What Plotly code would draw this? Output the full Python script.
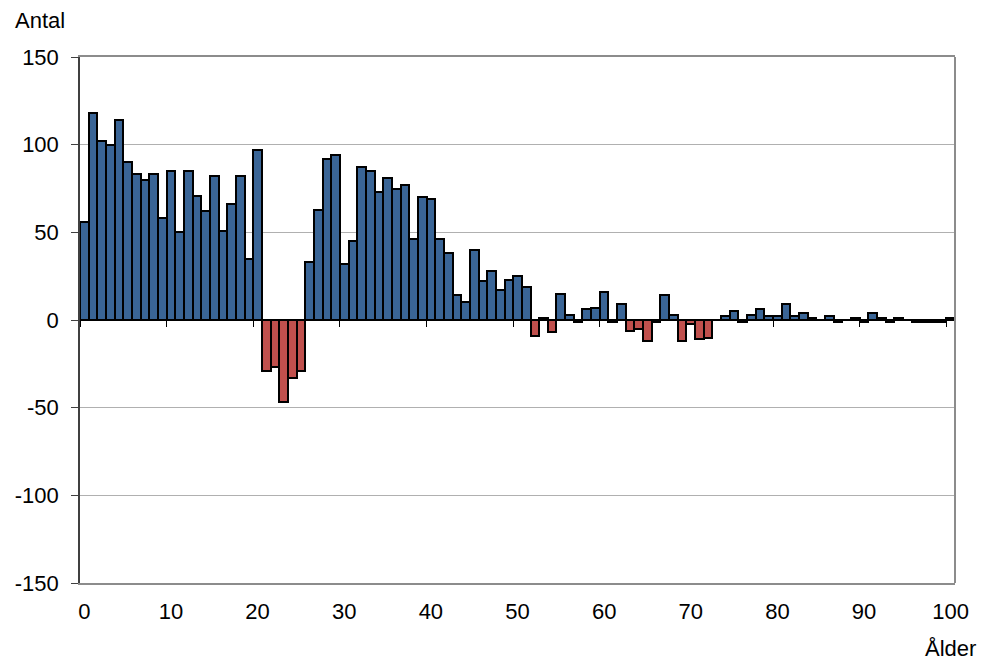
import plotly.graph_objects as go

ages = list(range(0, 101))
values = [
    56, 118, 102, 100, 114, 90, 83, 80, 83, 58,
    85, 50, 85, 71, 62, 82, 51, 66, 82, 35,
    97, -29, -27, -47, -33, -29, 33, 63, 92, 94,
    32, 45, 87, 85, 73, 81, 75, 77, 46, 70,
    69, 46, 38, 14, 10, 40, 22, 28, 17, 23,
    25, 19, -9, 1, -7, 15, 3, -1, 6, 7,
    16, -1, 9, -6, -5, -12, -1, 14, 3, -12,
    -2, -11, -10, 0, 2, 5, -1, 3, 6, 2,
    2, 9, 2, 4, 1, 0, 2, -1, 0, 1,
    -1, 4, 1, -1, 1, 0, -1, -1, -1, -1,
    1,
]
x_tick_vals = list(range(0, 101, 10))
x_tick_text = [str(v) for v in x_tick_vals]
y_tick_vals = [-150, -100, -50, 0, 50, 100, 150]
y_tick_text = ["-150", "-100", "-50", "0", "50", "100", "150"]

BLUE = "#3A6596"
RED = "#C0504D"
colors = [BLUE if v >= 0 else RED for v in values]
FONT = "Liberation Sans, Arial, sans-serif"
FS = 22

fig = go.Figure()
fig.add_trace(go.Bar(
    x=ages, y=values,
    marker=dict(color=colors, line=dict(color="black", width=2)),
    width=1.0, showlegend=False, hoverinfo="x+y",
))
fig.add_trace(go.Scatter(x=[0], y=[0], xaxis="x2", mode="markers",
                         marker=dict(opacity=0), showlegend=False, hoverinfo="skip"))

fig.update_layout(
    width=982, height=661,
    margin=dict(l=80, r=27, t=57, b=78),
    paper_bgcolor="white", plot_bgcolor="white",
    bargap=0,
    font=dict(family=FONT, size=FS, color="black"),
    xaxis=dict(
        range=[-0.5, 100.5], automargin=False,
        tickmode="array", tickvals=x_tick_vals, ticktext=x_tick_text,
        ticks="", showgrid=False, zeroline=False,
        showline=True, linecolor="#8c8c8c", linewidth=2, mirror=True,
        ticklabelstandoff=8,
        tickfont=dict(size=FS, family=FONT),
    ),
    xaxis2=dict(
        range=[-0.5, 100.5], overlaying="x", anchor="free", position=0.5,
        automargin=False,
        tickmode="linear", tick0=-0.5, dtick=10,
        ticks="outside", ticklen=6, tickcolor="black", tickwidth=1,
        showticklabels=False, showgrid=False, zeroline=False,
        showline=True, linecolor="black", linewidth=2,
    ),
    yaxis=dict(
        range=[-150, 150], automargin=False,
        tickmode="array", tickvals=y_tick_vals, ticktext=y_tick_text,
        ticks="outside", ticklen=7, tickcolor="#404040", tickwidth=1,
        showgrid=True, gridcolor="#b0b0b0", gridwidth=1,
        zeroline=False,
        showline=True, linecolor="#404040", linewidth=1.5,
        ticklabelstandoff=8,
        tickfont=dict(size=FS, family=FONT),
    ),
    shapes=[dict(type="line", xref="paper", yref="paper", x0=1, x1=1, y0=0, y1=1,
                 line=dict(color="#8c8c8c", width=2))],
    annotations=[
        dict(text="Antal", xref="paper", yref="paper",
             x=(40 - 80) / 875, y=1 + (57 - 20) / 526,
             xanchor="center", yanchor="middle", showarrow=False,
             font=dict(size=FS, family=FONT)),
        dict(text="Ålder", xref="paper", yref="paper",
             x=(950 - 80) / 875, y=-(648 - 583) / 526,
             xanchor="center", yanchor="middle", showarrow=False,
             font=dict(size=FS, family=FONT)),
    ],
)

fig.write_html("out.html", config={"displayModeBar": False},
               post_script="document.body.style.margin='0';")
